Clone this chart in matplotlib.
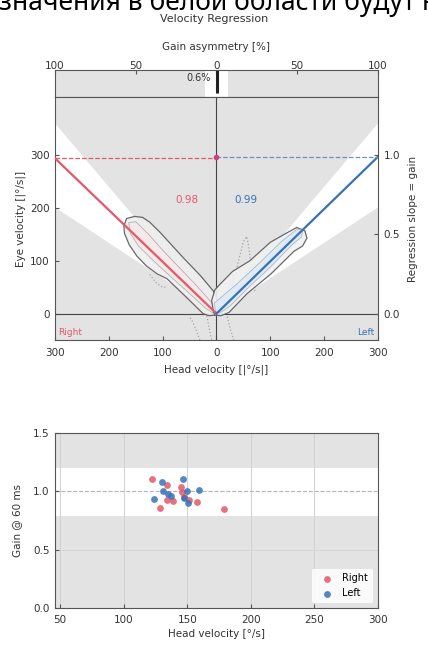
import matplotlib
matplotlib.use("Agg")
import matplotlib.pyplot as plt
from matplotlib.patches import Polygon, Rectangle
from matplotlib.ticker import FixedLocator, FuncFormatter

# ---------------- data ----------------
header_text = "значения в белой области будут н"
title_text = "Velocity Regression"

gain_right = 0.98
gain_left = 0.99
gain_asymmetry = 0.6          # percent
asym_normal = 7.0             # +/- percent, normal band
head_max = 300
normal_slope_low = 0.67
normal_slope_high = 1.2

velocity_ticks = [-300, -200, -100, 0, 100, 200, 300]
eye_ticks = [0, 100, 200, 300]
slope_ticks = [0.0, 0.5, 1.0]
asym_ticks = [-100, -50, 0, 50, 100]

# outer / inner density contours (head velocity, eye velocity)
right_outer_head = [-172, -167, -152, -137, -124, -105, -62, -30, -6, 3, 3, -3, -14, -25, -31, -55, -92, -110, -130, -148, -162, -171]
right_outer_eye = [166, 180, 184, 182, 173, 154, 106, 72, 43, 22, 5, -3, -4, 0, 6, 30, 66, 75, 90, 109, 130, 152]
right_inner_head = [-163, -150, -128, -100, -70, -38, -10, -2, -6, -20, -50, -85, -115, -145, -160]
right_inner_eye = [172, 174, 152, 120, 88, 54, 22, 6, 1, 10, 38, 70, 98, 128, 152]

left_outer_head = [-6, -9, -3, 6, 30, 62, 100, 131, 149, 164, 168, 160, 144, 101, 57, 23, 8, -3]
left_outer_eye = [5, 25, 45, 55, 80, 100, 135, 153, 163, 157, 143, 128, 118, 75, 38, 2, -4, -3]
left_inner_head = [-2, -4, 10, 40, 80, 120, 150, 160, 158, 140, 100, 60, 25, 6]
left_inner_eye = [4, 20, 32, 58, 96, 136, 160, 158, 145, 130, 88, 50, 14, 1]

# individual impulse traces (dotted)
trace_heads = [
    [-108, -100, -92, -86, -80, -72, -64, -56, -48],
    [-124, -118, -112, -106, -100, -94],
    [10, 18, 26, 34, 42, 50, 56, 60, 64, 68, 72],
    [-49, -44, -40, -36, -33, -31],
    [20, 23, 26, 29, 32],
    [-18, -15, -12, -9],
]
trace_eyes = [
    [128, 122, 132, 118, 112, 106, 96, 88, 76],
    [74, 66, 58, 54, 50, 50],
    [6, 20, 42, 70, 104, 136, 146, 126, 92, 60, 40],
    [-8, -16, -26, -36, -44, -50],
    [-6, -18, -30, -40, -50],
    [-4, -20, -36, -50],
]

# gain per impulse
right_head_vel = [122.4, 128.9, 133.8, 134.1, 138.5, 145.0, 145.5, 147.7, 151.6, 158.0, 178.9]
right_gain = [1.11, 0.854, 1.054, 0.925, 0.92, 1.04, 0.997, 0.949, 0.93, 0.905, 0.848]
left_head_vel = [123.7, 129.9, 130.7, 134.6, 137.2, 146.3, 147.1, 149.8, 150.2, 159.4]
left_gain = [0.931, 1.082, 1.0, 0.98, 0.96, 1.11, 0.94, 1.0, 0.897, 1.01]

gain_xticks = [50, 100, 150, 200, 250, 300]
gain_yticks = [0.0, 0.5, 1.0, 1.5]
gain_normal = (0.79, 1.2)

# ---------------- style ----------------
plt.rcParams['font.family'] = ['DejaVu Sans']
plt.rcParams['font.size'] = 7.5
GREY = '#e3e3e3'
RED = '#e3586b'
BLUE = '#3772b6'
TXT = '#333333'

W, H = 428, 648
fig = plt.figure(figsize=(W / 100, H / 100), dpi=100)


def axes_px(left, top, right, bottom):
    return fig.add_axes([left / W, 1 - bottom / H, (right - left) / W, (bottom - top) / H])


abs_fmt = FuncFormatter(lambda v, p: f"{abs(v):g}")

fig.text(-1 / W, 1 - 10 / H, header_text, ha='left', va='baseline',
         fontsize=19, family=['Noto Sans', 'DejaVu Sans'], color='black')
fig.text(0.5, 1 - 19 / H, title_text, ha='center', va='center', fontsize=8, color=TXT)

# ---------------- asymmetry strip ----------------
axs = axes_px(55, 70, 378, 97)
axs.set_facecolor(GREY)
axs.set_xlim(-100, 100)
axs.set_ylim(0, 1)
axs.add_patch(Rectangle((-asym_normal, 0), 2 * asym_normal, 1, color='white', lw=0))
axs.plot([gain_asymmetry, gain_asymmetry], [0.15, 1], color='#222222', lw=2.2, solid_capstyle='butt')
axs.text(gain_asymmetry - 4, 0.72, f"{gain_asymmetry}%", ha='right', va='center', fontsize=7, color=TXT)
axs.xaxis.set_major_locator(FixedLocator(asym_ticks))
axs.xaxis.set_major_formatter(abs_fmt)
axs.xaxis.tick_top()
axs.xaxis.set_label_position('top')
axs.set_xlabel("Gain asymmetry [%]", color=TXT, labelpad=8)
axs.tick_params(axis='x', direction='in', length=3, color='#555555', labelcolor=TXT, pad=-0.5)
axs.set_yticks([])
for s in axs.spines.values():
    s.set_color('#555555')
    s.set_linewidth(0.8)

# ---------------- velocity regression ----------------
ax = axes_px(55, 97, 378, 340)
ax.set_facecolor(GREY)
ax.set_xlim(-head_max, head_max)
ax.set_ylim(-50, 410)

for side in (-1, 1):
    ax.add_patch(Polygon([(0, 0), (side * head_max, normal_slope_high * head_max),
                          (side * head_max, normal_slope_low * head_max)],
                         closed=True, color='white', lw=0, zorder=1))

ax.axhline(0, color='#444444', lw=0.8, zorder=2)
ax.axvline(0, color='#444444', lw=0.8, zorder=2)

for th, te in zip(trace_heads, trace_eyes):
    ax.plot(th, te, ls=':', color='#a5a5a5', lw=0.9, zorder=2)

ax.add_patch(Polygon(list(zip(right_outer_head, right_outer_eye)), closed=True,
                     facecolor='#efefef', edgecolor='#5a5a5a', lw=0.9, alpha=0.9, zorder=3))
ax.add_patch(Polygon(list(zip(right_inner_head, right_inner_eye)), closed=True,
                     facecolor='#f6e9ea', edgecolor='#b0b0b0', lw=0.6, zorder=3))
ax.add_patch(Polygon(list(zip(left_outer_head, left_outer_eye)), closed=True,
                     facecolor='#f1f1f1', edgecolor='#5a5a5a', lw=0.9, alpha=0.9, zorder=3))
ax.add_patch(Polygon(list(zip(left_inner_head, left_inner_eye)), closed=True,
                     facecolor='#dfeaf5', edgecolor='#a8b8c8', lw=0.6, zorder=3))

ax.plot([-head_max, 0], [gain_right * head_max, 0], color=RED, lw=1.6, zorder=4)
ax.plot([0, head_max], [0, gain_left * head_max], color=BLUE, lw=1.6, zorder=4)
ax.plot([-head_max, 0], [gain_right * head_max] * 2, ls='--', color=RED, lw=0.9, zorder=4)
ax.plot([0, head_max], [gain_left * head_max] * 2, ls='--', color='#6f93bf', lw=0.9, zorder=4)
ax.plot([0], [(gain_right + gain_left) / 2 * head_max], 'o', ms=3, color='#d0407a', zorder=5)

ax.text(-55, 215, f"{gain_right:.2f}", color=RED, ha='center', va='center', fontsize=7.5)
ax.text(55, 215, f"{gain_left:.2f}", color=BLUE, ha='center', va='center', fontsize=7.5)
ax.text(-294, -36, "Right", color=RED, ha='left', va='center', fontsize=6.5)
ax.text(294, -36, "Left", color=BLUE, ha='right', va='center', fontsize=6.5)

ax.xaxis.set_major_locator(FixedLocator(velocity_ticks))
ax.xaxis.set_major_formatter(abs_fmt)
ax.set_yticks(eye_ticks)
ax.tick_params(direction='in', length=3, color='#555555', labelcolor=TXT, pad=4)
ax.tick_params(axis='x', pad=5.5)
ax.set_xlabel("Head velocity [|°/s|]", color=TXT, labelpad=5)
ax.set_ylabel("Eye velocity [|°/s|]", color=TXT, labelpad=3)
for s in ax.spines.values():
    s.set_color('#555555')
    s.set_linewidth(0.8)

axr = ax.twinx()
axr.set_ylim(-50 / head_max, 410 / head_max)
axr.set_yticks(slope_ticks)
axr.yaxis.set_major_formatter(FuncFormatter(lambda v, p: f"{v:.1f}"))
axr.tick_params(direction='in', length=3, color='#555555', labelcolor=TXT, pad=4)
axr.set_ylabel("Regression slope = gain", color=TXT, labelpad=6)
for s in axr.spines.values():
    s.set_visible(False)

# ---------------- gain vs head velocity ----------------
axb = axes_px(55, 433, 378, 608)
axb.set_facecolor(GREY)
axb.set_xlim(46, 300)
axb.set_ylim(0, 1.5)
axb.axhspan(gain_normal[0], gain_normal[1], color='white', lw=0, zorder=0)
for xv in gain_xticks[:-1]:
    axb.axvline(xv, color='#d2d2d2', lw=0.7, zorder=1)
axb.axhline(0.5, color='#d6d6d6', lw=0.7, zorder=1)
axb.axhline(1.0, color='#b5b5b5', lw=0.8, ls='--', zorder=1)

axb.scatter(right_head_vel, right_gain, s=24, color=RED, alpha=0.85, lw=0, zorder=3, label='Right')
axb.scatter(left_head_vel, left_gain, s=24, color=BLUE, alpha=0.85, lw=0, zorder=3, label='Left')

leg = axb.legend(loc='lower right', fontsize=7, frameon=True, framealpha=0.85,
                 edgecolor='white', handletextpad=0.6, borderpad=0.5)
leg.get_frame().set_linewidth(0)

axb.set_xticks(gain_xticks)
axb.set_yticks(gain_yticks)
axb.yaxis.set_major_formatter(FuncFormatter(lambda v, p: f"{v:.1f}"))
axb.tick_params(direction='in', length=3, color='#555555', labelcolor=TXT, pad=4)
axb.tick_params(axis='x', pad=5)
axb.set_xlabel("Head velocity [°/s]", color=TXT, labelpad=3)
axb.set_ylabel("Gain @ 60 ms", color=TXT, labelpad=8)
for s in axb.spines.values():
    s.set_color('#555555')
    s.set_linewidth(0.8)

fig.savefig("out.png", dpi=100)
